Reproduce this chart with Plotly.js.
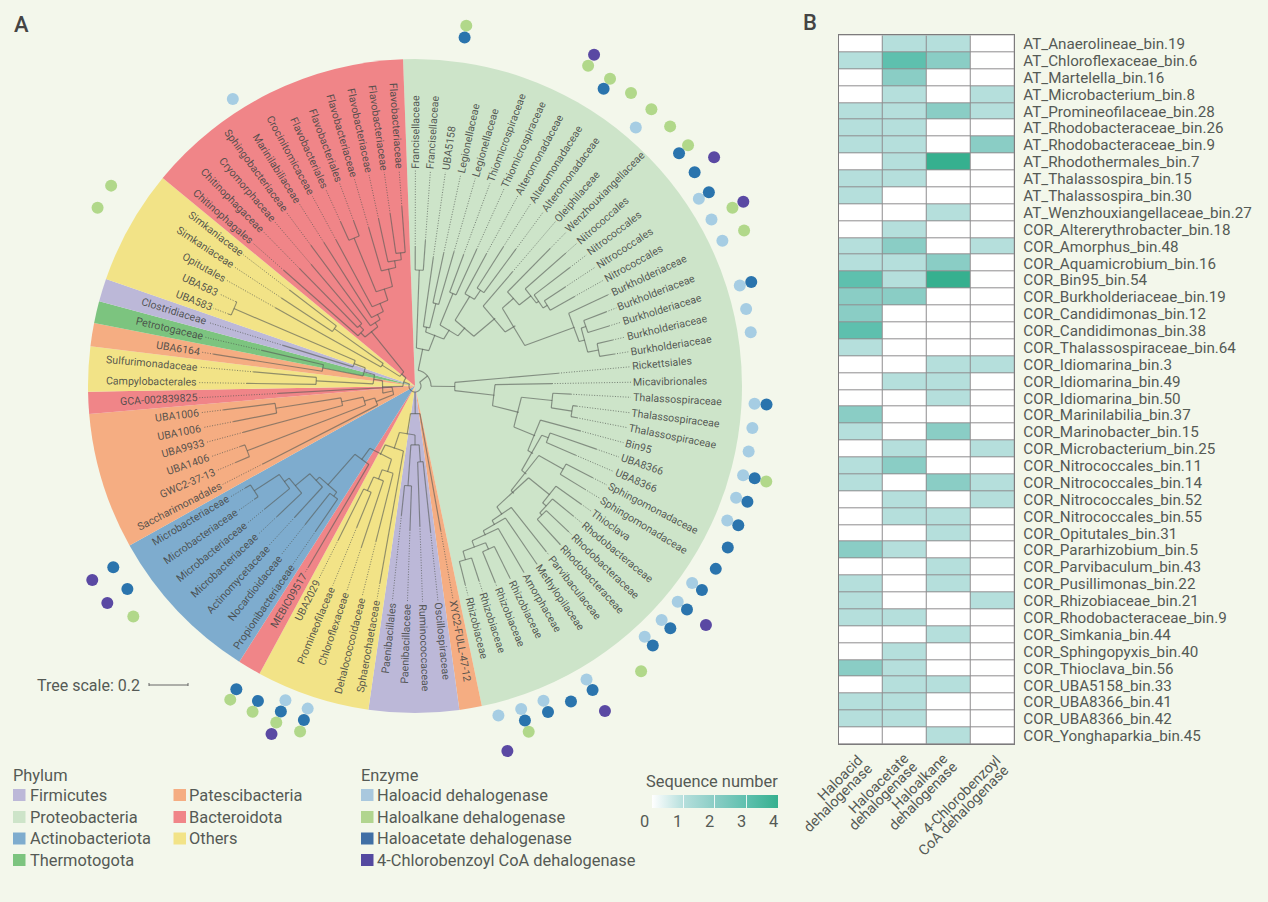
<!DOCTYPE html>
<html><head><meta charset="utf-8">
<script src="https://cdn.plot.ly/plotly-3.0.1.min.js"></script>
<style>html,body{margin:0;padding:0;background:#f3f7eb}#g{width:1268px;height:902px}</style>
</head><body><div id="g"></div>
<script>
const W=1268,H=902,CX=415,CY=386,ROUT=385;
const phylumNames=["Firmicutes","Proteobacteria","Actinobacteriota","Thermotogota","Patescibacteria","Bacteroidota","Others"];
const phylumColors=["#bcb8d8","#cde4c9","#7eacce","#7cc47f","#f5ad82","#f08588","#f2e387"];
const sectorPhylum=[1,4,0,6,5,2,4,5,6,4,3,0,6,5];
const sectorStart=[357.9,168.2,172.2,188.2,208.4,212.5,240.8,265.1,269,277,281.1,285,289.1,309.5];
const sectorEnd=[528.2,172.2,188.2,208.4,212.5,240.8,265.1,269,277,281.1,285,289.1,309.5,357.9];
const sectorRadius=[327,327,327,327,327,327,327,327,327,327,327,327,327,327];

const tipLabels=["Francisellaceae","Francisellaceae","UBA5158","Legionellaceae","Legionellaceae","Thiomicrospiraceae","Thiomicrospiraceae","Alteromonadaceae","Alteromonadaceae","Alteromonadaceae","Oleiphilaceae","Wenzhouxiangellaceae","Nitrococcales","Nitrococcales","Nitrococcales","Nitrococcales","Burkholderiaceae","Burkholderiaceae","Burkholderiaceae","Burkholderiaceae","Burkholderiaceae","Rickettsiales","Micavibrionales","Thalassospiraceae","Thalassospiraceae","Thalassospiraceae","Bin95","UBA8366","UBA8366","Sphingomonadaceae","Sphingomonadaceae","Thioclava","Rhodobacteraceae","Rhodobacteraceae","Rhodobacteraceae","Parvibaculaceae","Methylopilaceae","Amorphaceae","Rhizobiaceae","Rhizobiaceae","Rhizobiaceae","Rhizobiaceae","XYC2-FULL-47-12","Oscillospiraceae","Ruminococcaceae","Paenibacillaceae","Paenibacillales","Sphaerochaetaceae","Dehalococcoidaceae","Chloroflexaceae","Promineofilaceae","UBA2029","MEBIC09517","Propionibacteriaceae","Nocardioidaceae","Actinomycetaceae","Microbacteriaceae","Microbacteriaceae","Microbacteriaceae","Microbacteriaceae","Saccharimonadales","GWC2-37-13","UBA1406","UBA9933","UBA1006","UBA1006","GCA-002839825","Campylobacterales","Sulfurimonadaceae","UBA6164","Petrotogaceae","Clostridiaceae","UBA583","UBA583","Opitutales","Simkaniaceae","Simkaniaceae","Chitinophagales","Chitinophagaceae","Cryomorphaceae","Sphingobacteriaceae","Marinilabiliaceae","Crocinitomicaceae","Flavobacteriales","Flavobacteriales","Flavobacteriaceae","Flavobacteriaceae","Flavobacteriaceae","Flavobacteriaceae"];
const tipAngle=[0.1,4.1,8.1,12.2,16.2,20.3,24.3,28.4,32.4,36.4,40.5,44.5,48.6,52.6,56.6,60.7,64.7,68.8,72.8,76.9,80.9,84.9,89,93,97.1,101.1,105.2,109.2,113.3,117.3,121.3,125.4,129.4,133.5,137.5,141.6,145.6,149.7,153.7,157.8,161.8,165.8,169.9,173.9,178,182,186,190.1,194.1,198.4,202.4,206.5,210.5,214.4,218.4,222.5,226.6,230.7,234.8,239,242.9,246.9,250.9,254.9,258.9,262.9,266.9,270.9,275,279,283.1,287.1,291.1,295.2,299.3,303.4,307.4,311.4,315.5,319.5,323.5,327.6,331.6,335.6,339.6,343.7,347.7,351.8,355.8];
const tipSolidEnd=[139,146,130,136,140,140,150,150,165,170,150,193,201,195,180,183,213,205,203,203,202,144,137,156,163,165,171,192,175,200,199,204,205,212,215,211,216,216,214,212,205,205,147,147,140,144,130,200,160,170,153,172,210,176,177,178,190,194,196,198,171,195,185,178,185,193,137,168,162,204,157,138,200,198,160,160,158,175,165,160,175,170,166,180,176,165,171,174,180];
const labelRadius=218;

// tree clades: [node radius, child, child]; a plain number is a tip index
const cFran=[116,0,1],cLeg=[85,3,4],cUba=[60,2,cLeg],cThio=[100,5,6],cAlt2=[116,8,9],cAlt=[105,7,cAlt2];
const cBu1=[181,17,18],cBu2=[187,19,20],cBu3=[176,cBu1,cBu2],cBurk=[170,16,cBu3];
const cNi1=[155,14,15],cNi2=[150,13,cNi1],cNi3=[147,12,cNi2],cNit=[132,11,cNi3];
const cG1=[117,cNit,cBurk],cG2=[105,10,cG1],cG3=[77,cAlt,cG2],cG4=[66,cThio,cG3],cG5=[55,cUba,cG4],cGamma=[38,cFran,cG5];
const cTh1=[159,24,25],cThal=[138,23,cTh1];
const cU83=[143,27,28],cSph=[170,29,30],cRh1=[181,33,34],cRh2=[178,32,cRh1],cRh3=[173,31,cRh2];
const cRz1=[179,38,39],cRz2=[181,40,41],cRz3=[172,cRz1,cRz2],cAm=[165,37,cRz3],cMe=[160,36,cAm],cPa=[155,35,cMe];
const cA1=[146,cRh3,cPa],cA2=[142,cSph,cA1],cA3=[136,cU83,cA2],cA4=[130,26,cA3],cA5=[107,cThal,cA4],cA6=[80,22,cA5],cAlpha=[40,21,cA6];
const cProteo=[16,cGamma,cAlpha];
const cF1=[76,43,44],cF2=[100,45,46],cFirm=[59,cF1,cF2];
const cY1=[115,50,51],cY2=[100,49,cY1],cY3=[90,48,cY2];
const cB1=[192,58,59],cB2=[162,57,cB1],cB3=[156,56,cB2],cB4=[137,55,cB3],cB5=[137,53,54],cB6=[132,cB4,cB5],cB7=[91,52,cB6];
const cX=[77,cY3,cB7],cZ=[66,47,cX],cW=[49,cFirm,cZ],cBottom=[28,42,cW];
const cP1=[141,64,65],cP2=[75,63,cP1],cP3=[180,61,62],cP4=[53,cP3,cP2],cP5=[42,60,cP4],cP6=[23,cP5,66];
const cC5=[99,67,68],cC3=[94,69,70],cC1=[197,72,73],cC2=[65,71,cC1],cC4=[53,cC3,cC2],cC6=[42,cC5,cC4],cC7=[33,cP6,cC6];
const cS1=[99,75,76],cS=[39,74,cS1];
const cV0=[160,83,84],cV1=[134,87,88],cV2=[127,86,cV1],cV3=[120,85,cV2],cV4=[102,cV0,cV3],cV5=[90,82,cV4],cV6=[81,81,cV5],cV7=[75,80,cV6];
const cW1=[82,78,79],cW2=[76,77,cW1],cV8=[70,cW2,cV7],cR1=[18,cS,cV8],cLeft=[12,cC7,cR1];
const treeRoot=[6,cProteo,cBottom,cLeft];

// tips carrying each enzyme (ring radius per enzyme)
const enzymeNames=["Haloacid dehalogenase","Haloalkane dehalogenase","Haloacetate dehalogenase","4-Chlorobenzoyl CoA dehalogenase"];
const enzymeDotColors=["#a6cde3","#b1d88a","#2a74ad","#5a49a3"];
const enzymeSwatch=["#a9c8de","#b1d58f","#406fa5","#5449a0"];
const enzymeRing=[340,364,352,376.5];
const tipsHaloacid=[10,14,15,16,18,19,20,23,24,25,26,27,28,31,32,33,34,37,39,40,41,49,50,81];
const tipsHaloalkane=[2,7,8,9,10,11,12,15,16,26,35,40,49,50,51,52,57,74,75];
const tipsHaloacetate=[2,8,12,13,14,18,23,26,27,28,29,30,31,32,33,34,37,38,39,40,49,50,51,52,58,59];
const tipsChloro=[7,13,15,32,37,41,50,58,59];

// Panel B
const binLabels=["AT_Anaerolineae_bin.19","AT_Chloroflexaceae_bin.6","AT_Martelella_bin.16","AT_Microbacterium_bin.8","AT_Promineofilaceae_bin.28","AT_Rhodobacteraceae_bin.26","AT_Rhodobacteraceae_bin.9","AT_Rhodothermales_bin.7","AT_Thalassospira_bin.15","AT_Thalassospira_bin.30","AT_Wenzhouxiangellaceae_bin.27","COR_Altererythrobacter_bin.18","COR_Amorphus_bin.48","COR_Aquamicrobium_bin.16","COR_Bin95_bin.54","COR_Burkholderiaceae_bin.19","COR_Candidimonas_bin.12","COR_Candidimonas_bin.38","COR_Thalassospiraceae_bin.64","COR_Idiomarina_bin.3","COR_Idiomarina_bin.49","COR_Idiomarina_bin.50","COR_Marinilabilia_bin.37","COR_Marinobacter_bin.15","COR_Microbacterium_bin.25","COR_Nitrococcales_bin.11","COR_Nitrococcales_bin.14","COR_Nitrococcales_bin.52","COR_Nitrococcales_bin.55","COR_Opitutales_bin.31","COR_Pararhizobium_bin.5","COR_Parvibaculum_bin.43","COR_Pusillimonas_bin.22","COR_Rhizobiaceae_bin.21","COR_Rhodobacteraceae_bin.9","COR_Simkania_bin.44","COR_Sphingopyxis_bin.40","COR_Thioclava_bin.56","COR_UBA5158_bin.33","COR_UBA8366_bin.41","COR_UBA8366_bin.42","COR_Yonghaparkia_bin.45"];
const heatColumns=["Haloacid dehalogenase","Haloacetate dehalogenase","Haloalkane dehalogenase","4-Chlorobenzoyl CoA dehalogenase"];
const columnLabelLines=["Haloacid","dehalogenase","Haloacetate","dehalogenase","Haloalkane","dehalogenase","4-Chlorobenzoyl","CoA dehalogenase"];
const seqHaloacid=[0,1,0,0,1,1,1,0,1,1,0,0,1,1,3,2,2,3,1,0,0,0,2,1,0,1,1,0,0,0,2,0,1,1,1,0,0,2,0,1,1,0];
const seqHaloacetate=[1,3,2,1,1,1,1,1,1,0,0,1,2,1,1,2,0,0,0,0,1,0,0,0,1,2,0,1,1,0,1,0,0,0,1,0,1,1,1,1,1,0];
const seqHaloalkane=[1,2,0,0,2,0,0,4,0,0,1,0,0,2,4,0,0,0,0,1,1,1,0,2,0,0,2,0,1,1,0,1,1,0,0,1,0,0,1,0,0,1];
const seqChloro=[0,0,0,1,1,0,2,0,0,0,0,0,1,0,0,0,0,0,0,1,0,0,0,0,1,0,1,1,0,0,0,0,0,1,0,0,0,0,0,0,0,0];
const legendTicks=[0,1,2,3,4];

const px=x=>x/W, py=y=>1-y/H;
const TXT="#555a55", FONT="Roboto, sans-serif";

// ---- build tree polylines
const solidT=[],solidR=[],dotT=[],dotR=[];
function seg(t,r){t.forEach((v,i)=>{solidT.push(v);solidR.push(r[i]);});solidT.push(null);solidR.push(null);}
function ang(n){return typeof n==="number"?tipAngle[n]:n.slice(1).map(ang).reduce((a,b)=>a+b,0)/(n.length-1);}
function walk(n){
  const r=n[0],kids=n.slice(1),as=kids.map(ang),ct=[],cr=[];
  as.forEach((a,i)=>{
    if(i>0&&a-as[i-1]>30){for(let k=1;k<12;k++){ct.push(as[i-1]+(a-as[i-1])*k/12);cr.push(r);}}
    ct.push(a);cr.push(r);
  });
  seg(ct,cr);
  kids.forEach((k,i)=>{
    if(typeof k==="number"){
      seg([as[i],as[i]],[r,tipSolidEnd[k]]);
      dotT.push(as[i],as[i],null);dotR.push(tipSolidEnd[k],labelRadius-2,null);
    }else{seg([as[i],as[i]],[r,k[0]]);walk(k);}
  });
}
walk(treeRoot);

// ---- traces
const traces=[];
traces.push({type:"barpolar",subplot:"polar",
  theta:sectorStart.map((s,i)=>(s+sectorEnd[i])/2),
  width:sectorStart.map((s,i)=>sectorEnd[i]-s),
  r:sectorRadius,
  marker:{color:sectorPhylum.map(p=>phylumColors[p]),line:{width:0}},
  hoverinfo:"skip",showlegend:false});
traces.push({type:"scatterpolar",subplot:"polar",mode:"lines",theta:dotT,r:dotR,
  line:{color:"rgba(80,85,80,0.7)",width:1,dash:"1px,1.6px"},hoverinfo:"skip",showlegend:false});
traces.push({type:"scatterpolar",subplot:"polar",mode:"lines",theta:solidT,r:solidR,
  line:{color:"rgba(85,90,85,0.62)",width:1.15},hoverinfo:"skip",showlegend:false});
[tipsHaloacid,tipsHaloalkane,tipsHaloacetate,tipsChloro].forEach((tips,e)=>{
  traces.push({type:"scatterpolar",subplot:"polar",mode:"markers",name:enzymeNames[e],
    theta:tips.map(t=>tipAngle[t]),r:tips.map(()=>enzymeRing[e]),
    marker:{size:12,color:enzymeDotColors[e],line:{width:0}},showlegend:false});
});
traces.push({type:"heatmap",x:heatColumns,y:binLabels,
  z:binLabels.map((_,i)=>[seqHaloacid[i],seqHaloacetate[i],seqHaloalkane[i],seqChloro[i]]),
  zmin:0,zmax:4,xgap:1,ygap:1,
  colorscale:[[0,"#ffffff"],[0.25,"#b5dfdc"],[0.5,"#8acdc5"],[0.75,"#5ec0ae"],[1,"#36b08f"]],
  colorbar:{orientation:"h",x:px(651.5),xanchor:"left",y:py(795),yanchor:"top",
    len:126,lenmode:"pixels",thickness:13,thicknessmode:"pixels",xpad:0,ypad:0,outlinewidth:0,
    tickmode:"array",tickvals:[1,2,3],ticks:"inside",ticklen:13,tickwidth:1,tickcolor:"rgba(255,255,255,0.85)",showticklabels:false}});

// ---- annotations
const ann=[];
function txt(text,x,y,size,opt){ann.push(Object.assign({text,x:px(x),y:py(y),xref:"paper",yref:"paper",showarrow:false,
  xanchor:"left",yanchor:"middle",font:{family:FONT,size,color:TXT}},opt||{}));}
const LABEL_SIZE=10.6;
const ctx=document.createElement("canvas").getContext("2d");
ctx.font=LABEL_SIZE+"px Roboto";
tipLabels.forEach((s,i)=>{
  const a=tipAngle[i],w=ctx.measureText(s).width,rc=labelRadius+w/2,rad=a*Math.PI/180;
  const rot=a<180?a-90:a-270;
  ann.push({text:s,x:px(CX+rc*Math.sin(rad)),y:py(CY-rc*Math.cos(rad)),xref:"paper",yref:"paper",showarrow:false,
    xanchor:"center",yanchor:"middle",textangle:rot,font:{family:FONT,size:LABEL_SIZE,color:"rgba(70,72,70,0.9)"}});
});
txt("A",12,24,22,{font:{family:FONT,size:22,color:"#444",weight:500}});
txt("B",801,22,22,{font:{family:FONT,size:22,color:"#444",weight:500}});
txt("Tree scale: 0.2",35,685,16);

const shapes=[];
function swatch(x,y,c){shapes.push({type:"rect",xref:"paper",yref:"paper",x0:px(x),x1:px(x+12.5),y0:py(y+6),y1:py(y-6),fillcolor:c,line:{width:0}});}
const LEG=16.4;
txt("Phylum",11,775,LEG);
txt("Enzyme",359,775,LEG);
const legendRows=[795,817,838.5,860];
[[0,0],[1,1],[2,2],[3,3]].forEach(([p,r])=>{swatch(13,legendRows[r],phylumColors[p]);txt(phylumNames[p],27.5,legendRows[r],LEG);});
[[4,0],[5,1],[6,2]].forEach(([p,r])=>{swatch(173.5,legendRows[r],phylumColors[p]);txt(phylumNames[p],187,legendRows[r],LEG);});
enzymeNames.forEach((n,e)=>{swatch(361,legendRows[e],enzymeSwatch[e]);txt(n,375,legendRows[e],LEG);});
txt("Sequence number",712,781.5,LEG,{xanchor:"center"});
legendTicks.forEach((t,i)=>txt(String(t),[645,677.5,709,741,773][i],821,LEG,{xanchor:"center"}));
[[840,778.5],[837.5,798],[879,783.7],[883,796],[920.3,781.7],[923,796],[962,794.3],[963.7,810]].forEach(([x,y],i)=>
  txt(columnLabelLines[i],x,y,14.4,{xanchor:"center",textangle:-45}));

// tree-scale bar
[[149,685,188,685],[149,683,149,686],[188,683,188,686]].forEach(s=>shapes.push({type:"line",xref:"paper",yref:"paper",
  x0:px(s[0]),y0:py(s[1]),x1:px(s[2]),y1:py(s[3]),line:{color:"#666",width:1}}));

const layout={width:W,height:H,margin:{l:0,r:0,t:0,b:0},paper_bgcolor:"#f3f7eb",plot_bgcolor:"#8f8d8f",
  showlegend:false,font:{family:FONT,color:TXT},
  polar:{domain:{x:[px(CX-ROUT),px(CX+ROUT)],y:[py(CY+ROUT),py(CY-ROUT)]},bgcolor:"rgba(0,0,0,0)",bargap:0,
    angularaxis:{visible:false,rotation:90,direction:"clockwise"},
    radialaxis:{visible:false,range:[0,ROUT]}},
  xaxis:{domain:[px(838.7),px(1014.3)],anchor:"y",showticklabels:false,ticks:"",showgrid:false,zeroline:false,
    showline:true,mirror:true,linecolor:"#7d7b7d",linewidth:1,fixedrange:true},
  yaxis:{domain:[py(744.3),py(35.3)],anchor:"x",side:"right",autorange:"reversed",showgrid:false,zeroline:false,
    showline:true,mirror:true,linecolor:"#7d7b7d",linewidth:1,ticks:"outside",ticklen:5,tickcolor:"rgba(0,0,0,0)",
    tickmode:"array",tickvals:binLabels,ticktext:binLabels,tickfont:{family:FONT,size:15.2,color:TXT},fixedrange:true},
  annotations:ann,shapes};
Plotly.newPlot("g",traces,layout,{displayModeBar:false,staticPlot:true});
</script></body></html>
